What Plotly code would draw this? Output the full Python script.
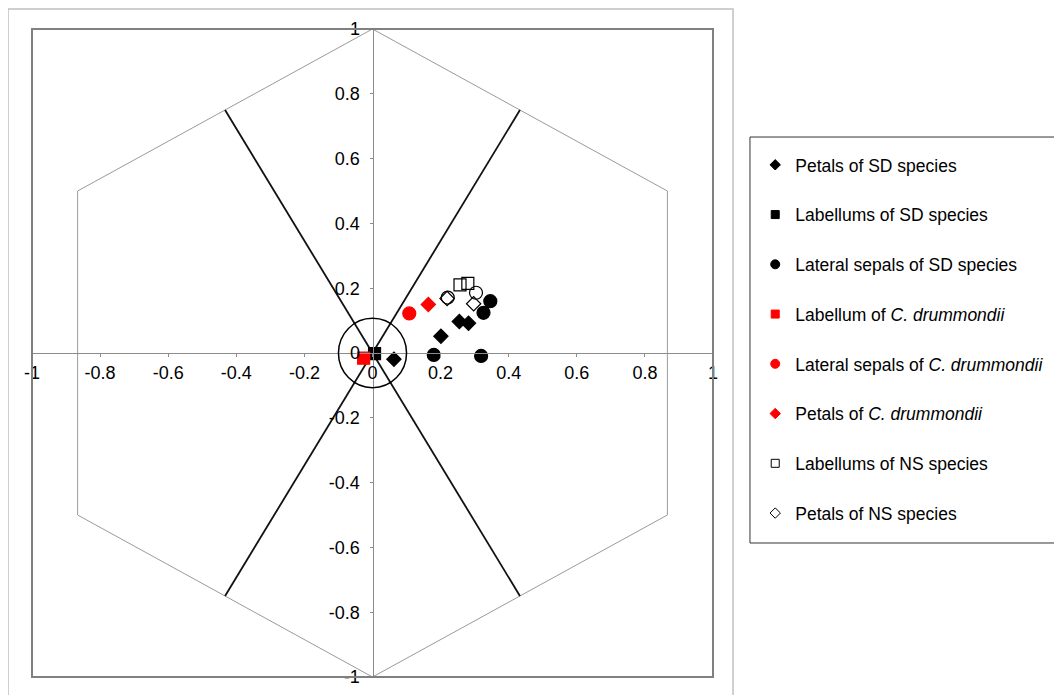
import numpy as np
import plotly.graph_objects as go

# ---------------- data ----------------
petals_sd_x = [0.063, 0.201, 0.255, 0.282]
petals_sd_y = [-0.019, 0.052, 0.097, 0.092]

labellums_sd_x = [0.006]
labellums_sd_y = [-0.002]

sepals_sd_x = [0.180, 0.319, 0.326, 0.346]
sepals_sd_y = [-0.006, -0.009, 0.124, 0.160]

labellum_cd_x = [-0.026]
labellum_cd_y = [-0.016]

sepals_cd_x = [0.108]
sepals_cd_y = [0.122]

petals_cd_x = [0.164]
petals_cd_y = [0.150]

labellums_ns_x = [0.257, 0.280]
labellums_ns_y = [0.210, 0.215]

petals_ns_x = [0.219, 0.297]
petals_ns_y = [0.168, 0.152]

sepals_ns_x = [0.221, 0.304]
sepals_ns_y = [0.171, 0.186]

tick_vals = [-1, -0.8, -0.6, -0.4, -0.2, 0, 0.2, 0.4, 0.6, 0.8, 1]
tick_text = ["-1", "-0.8", "-0.6", "-0.4", "-0.2", "0", "0.2", "0.4", "0.6", "0.8", "1"]

# hexagon geometry (unit hexagon, vertex at top)
hex_angles = np.deg2rad([90, 30, -30, -90, -150, 150, 90])
hex_x = np.cos(hex_angles)
hex_y = np.sin(hex_angles)
spoke_angles = np.deg2rad([60, 120])
spoke_r = np.cos(np.deg2rad(30))

FONT = "Liberation Sans, Arial, sans-serif"

fig = go.Figure()

# hexagon outline
fig.add_trace(go.Scatter(x=hex_x, y=hex_y, mode="lines",
                         line=dict(color="#9a9a9a", width=1),
                         showlegend=False, hoverinfo="skip"))
# spokes
for a in spoke_angles:
    fig.add_trace(go.Scatter(x=[spoke_r * np.cos(a), -spoke_r * np.cos(a)],
                             y=[spoke_r * np.sin(a), -spoke_r * np.sin(a)],
                             mode="lines", line=dict(color="#111111", width=1.8),
                             showlegend=False, hoverinfo="skip"))

series = [
    ("Petals of SD species", petals_sd_x, petals_sd_y, "diamond", "black", 11, True),
    ("Labellums of SD species", labellums_sd_x, labellums_sd_y, "square", "black", 12, True),
    ("Lateral sepals of SD species", sepals_sd_x, sepals_sd_y, "circle", "black", 13, True),
    ("Labellum of <i>C. drummondii</i>", labellum_cd_x, labellum_cd_y, "square", "#ff0000", 12, True),
    ("Lateral sepals of <i>C. drummondii</i>", sepals_cd_x, sepals_cd_y, "circle", "#ff0000", 13, True),
    ("Petals of <i>C. drummondii</i>", petals_cd_x, petals_cd_y, "diamond", "#ff0000", 11, True),
    ("Labellums of NS species", labellums_ns_x, labellums_ns_y, "square-open", "black", 12, True),
    ("Petals of NS species", petals_ns_x, petals_ns_y, "diamond-open", "black", 11, True),
    ("Lateral sepals of NS species", sepals_ns_x, sepals_ns_y, "circle-open", "black", 13, False),
]

for i, (name, xs, ys, sym, col, sz, show) in enumerate(series):
    # data marks
    fig.add_trace(go.Scatter(
        x=xs, y=ys, mode="markers", name=name, legendgroup=f"g{i}",
        showlegend=False,
        marker=dict(symbol=sym, color=col, size=sz,
                    line=dict(color=col, width=1.2))))
    # legend swatch with smaller symbol
    if show:
        lsz = 9 if "circle" in sym else 8
        fig.add_trace(go.Scatter(
            x=[None], y=[None], mode="markers", name=name, legendgroup=f"g{i}",
            showlegend=True, hoverinfo="skip",
            marker=dict(symbol=sym, color=col, size=lsz,
                        line=dict(color=col, width=1))))

axis_common = dict(range=[-1, 1], showgrid=False, zeroline=False,
                   showline=True, linecolor="#8c8c8c", linewidth=1,
                   ticks="outside", ticklen=3, tickcolor="#8c8c8c",
                   tickvals=tick_vals, ticktext=tick_text,
                   tickfont=dict(family=FONT, size=18, color="black"),
                   anchor="free", position=0.5, fixedrange=True)

fig.update_layout(
    width=1062, height=695,
    margin=dict(l=24, r=357, t=21, b=26),
    paper_bgcolor="white", plot_bgcolor="white",
    xaxis=dict(**axis_common, domain=[0, 1]),
    yaxis=dict(**axis_common, domain=[0, 1], ticklabelstandoff=6),
    showlegend=True,
    legend=dict(x=1.062, y=0.818, xanchor="left", yanchor="top",
                font=dict(family=FONT, size=17.5, color="black"),
                bgcolor="rgba(0,0,0,0)", borderwidth=0,
                tracegroupgap=24, itemsizing="trace"),
    shapes=[
        dict(type="circle", xref="x", yref="y", x0=-0.1, x1=0.1, y0=-0.107, y1=0.107,
             line=dict(color="black", width=1.5)),
        dict(type="rect", xref="paper", yref="paper", x0=0, x1=1, y0=0, y1=1,
             line=dict(color="#808080", width=2)),
        dict(type="rect", xref="paper", yref="paper", x0=-0.0352, x1=1.0294,
             y0=-0.05, y1=1.0309, line=dict(color="#c0c0c0", width=1.5)),
        dict(type="rect", xref="paper", yref="paper", x0=1.0543, x1=1.5066,
             y0=0.2068, y1=0.8333, line=dict(color="#333333", width=1)),
    ],
)

fig.write_html("out.html")
